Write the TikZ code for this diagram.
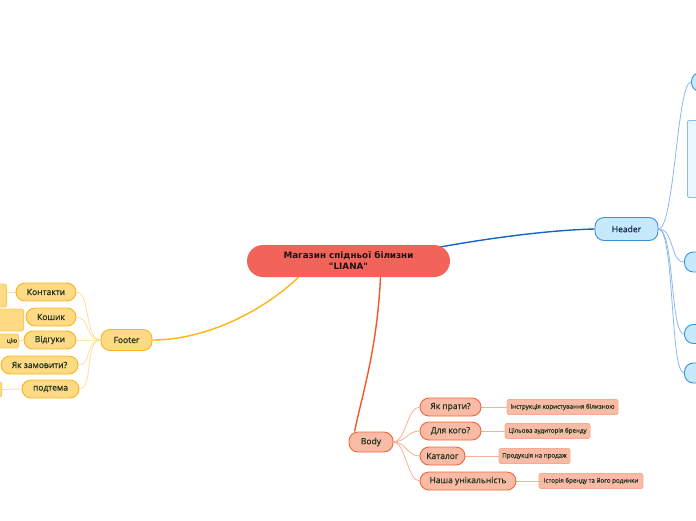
\documentclass[tikz,border=0pt]{standalone}
\usepackage{fontspec}
\setmainfont{Open Sans}[FakeBold=0.6]
\newfontfamily\hubfont{DejaVu Sans}
\usetikzlibrary{backgrounds}
\definecolor{HubRed}{RGB}{242,99,90}
\definecolor{HubText}{RGB}{25,20,20}
\definecolor{HeadLine}{RGB}{22,100,200}
\definecolor{HeadFill}{RGB}{198,233,251}
\definecolor{HeadDraw}{RGB}{58,143,214}
\definecolor{HeadTwig}{RGB}{138,184,240}
\definecolor{HeadText}{RGB}{22,40,80}
\definecolor{FootLine}{RGB}{253,181,21}
\definecolor{FootFill}{RGB}{255,218,133}
\definecolor{FootDraw}{RGB}{245,180,30}
\definecolor{FootTwig}{RGB}{255,222,155}
\definecolor{BodyLine}{RGB}{240,88,40}
\definecolor{BodyFill}{RGB}{249,187,165}
\definecolor{BodyDraw}{RGB}{240,102,60}
\definecolor{BodyTwig}{RGB}{249,175,148}
\definecolor{LeafText}{RGB}{30,50,30}

\tikzset{
  topic/.style={rounded corners=9pt, line width=0.9pt, inner xsep=0pt,
    inner ysep=0pt, font=\fontsize{8.5}{10}\selectfont, text=LeafText},
  headtopic/.style={topic, draw=HeadDraw, fill=HeadFill, text=HeadText},
  foottopic/.style={topic, draw=FootDraw, fill=FootFill, minimum height=18pt},
  bodytopic/.style={topic, draw=BodyDraw, fill=BodyFill, minimum height=18pt},
  footleaf/.style={rounded corners=2pt, line width=0.8pt, draw=FootDraw!70,
    fill=FootFill, inner sep=0pt, font=\fontsize{6}{7}\selectfont, text=LeafText},
  bodyleaf/.style={rounded corners=2pt, line width=0.8pt, draw=BodyDraw!55,
    fill=BodyFill, minimum height=15pt, inner sep=0pt,
    font=\fontsize{6.2}{7}\selectfont, text=LeafText},
  twig/.style={line width=0.8pt},
}

\begin{document}
\begin{tikzpicture}[x=1pt,y=-1pt]
\clip (0,0) rectangle (696,520);

% central topic
\node[
  fill=HubRed,
  rounded corners=16pt,
  minimum width=203pt,
  minimum height=32pt,
  inner sep=0pt,
  align=center,
  text=HubText,
  font=\hubfont\bfseries\fontsize{8.8}{11}\selectfont
] (hub) at (348.5,261) {Магазин спідньої білизни\\"LIANA"};

% Header branch
\node[headtopic, minimum width=63pt, minimum height=23pt] (header) at (626.5,229) {Header};
\node[headtopic, anchor=west, minimum width=60pt, minimum height=19pt] (head1) at (691,82) {};
\node[draw=HeadDraw!60, fill=HeadFill!40, line width=0.9pt, rounded corners=2pt,
  anchor=north west, minimum width=40pt, minimum height=77pt] (headpic) at (687,120) {};
\node[headtopic, anchor=west, minimum width=60pt, minimum height=20pt] (head2) at (684,262) {};
\node[headtopic, anchor=west, minimum width=60pt, minimum height=19pt] (head3) at (684,334) {};
\node[headtopic, anchor=west, minimum width=60pt, minimum height=20pt] (head4) at (684,373) {};

% Footer branch
\node[foottopic, minimum width=51pt, minimum height=21pt] (footer) at (126.5,340) {Footer};
\node[foottopic, minimum width=60pt] (kontakty) at (46,292) {Контакти};
\node[foottopic, minimum width=50pt] (koshyk) at (51,317) {Кошик};
\node[foottopic, minimum width=52pt] (vidguky) at (50,340) {Відгуки};
\node[foottopic, minimum width=77pt] (zamovyty) at (39.5,365) {Як замовити?};
\node[foottopic, minimum width=57pt] (pidtema) at (50.5,389) {подтема};
\node[footleaf, anchor=east, minimum width=40pt, minimum height=23pt] (kontaktyleaf) at (7,295.5) {};
\node[footleaf, anchor=east, minimum width=50pt, minimum height=22pt] (koshykleaf) at (24,320) {};
\node[footleaf, anchor=east, minimum width=40pt, minimum height=14pt,
  text width=37pt, align=right] (vidgukyleaf) at (19,341) {цію};
\node[footleaf, anchor=east, minimum width=40pt, minimum height=15pt] (pidtemaleaf) at (2,389.5) {};

% Body branch
\node[bodytopic, minimum width=44pt, minimum height=20pt] (body) at (371,442) {Body};
\node[bodytopic, minimum width=61pt] (prataty) at (450.5,407) {Як прати?};
\node[bodytopic, minimum width=61pt] (dlyakogo) at (450.5,431) {Для кого?};
\node[bodytopic, minimum width=45pt] (katalog) at (442.5,456) {Каталог};
\node[bodytopic, minimum width=96pt] (unikal) at (468,481) {Наша унікальність};
\node[bodyleaf, minimum width=111pt] (prataleaf) at (562.5,407) {Інструкція користування білизною};
\node[bodyleaf, minimum width=85pt] (dlyakogoleaf) at (547.5,431) {Цільова аудиторія бренду};
\node[bodyleaf, minimum width=71pt] (katalogleaf) at (534.5,456) {Продукція на продаж};
\node[bodyleaf, minimum width=104pt] (unikalleaf) at (591,481) {Історія бренду та його родинки};

\begin{scope}[on background layer]
% main branches
\draw[HeadLine, line width=1.4pt] ([shift={(-10,-14)}]hub.east)
  .. controls (490,238) and (550,230) .. (header.west);
\draw[FootLine, line width=1.4pt] ([xshift=-50pt]hub.south)
  .. controls (262,312) and (205,340) .. (footer.east);
\draw[BodyLine, line width=1.4pt] ([xshift=32pt]hub.south)
  .. controls (377,350) and (362,395) .. ([xshift=6pt]body.north west);

% header twigs
\foreach \n in {head1,head2,head3,head4}
  \draw[twig, HeadTwig] (header.east) .. controls +(16,0) and +(-14,0) .. (\n.west);

% footer twigs
\foreach \n in {kontakty,koshyk,vidguky,zamovyty,pidtema}
  \draw[twig, FootTwig] (footer.west) .. controls +(-16,0) and +(14,0) .. (\n.east);
\draw[twig, FootTwig] (kontakty.west) -- (kontaktyleaf.east |- kontakty.west);
\draw[twig, FootTwig] (vidguky.west) -- (vidgukyleaf.east);
\draw[twig, FootTwig] (pidtema.west) -- (pidtemaleaf.east);

% body twigs
\foreach \n in {prataty,dlyakogo,katalog,unikal}
  \draw[twig, BodyTwig] (body.east) .. controls +(12,0) and +(-12,0) .. (\n.west);
\draw[twig, BodyTwig] (prataty.east) -- (prataleaf.west);
\draw[twig, BodyTwig] (dlyakogo.east) -- (dlyakogoleaf.west);
\draw[twig, BodyTwig] (katalog.east) -- (katalogleaf.west);
\draw[twig, BodyTwig] (unikal.east) -- (unikalleaf.west);
\end{scope}
\end{tikzpicture}
\end{document}
